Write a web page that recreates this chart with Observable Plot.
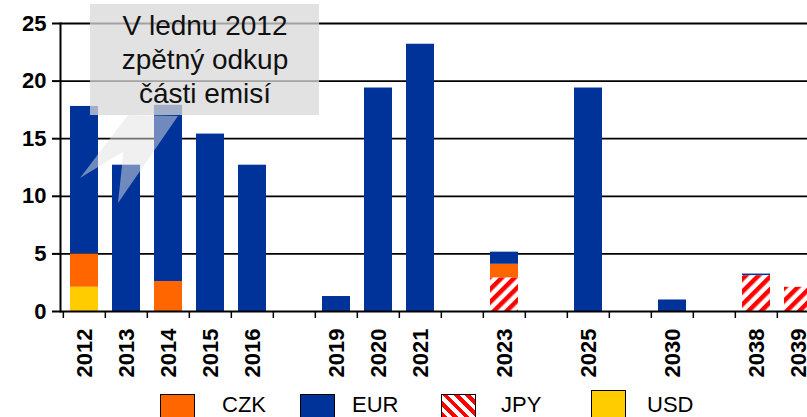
<!DOCTYPE html>
<html><head><meta charset="utf-8">
<script src="https://cdn.jsdelivr.net/npm/d3@7"></script>
<script src="https://cdn.jsdelivr.net/npm/@observablehq/plot@0.6"></script>
<style>
html,body{margin:0;padding:0;background:#fff;overflow:hidden;width:807px;height:417px;}
#wrap{position:relative;width:807px;height:417px;overflow:hidden;font-family:"Liberation Sans",Arial,sans-serif;}
#wrap svg{position:absolute;left:0;top:0;max-width:none !important;width:830px;height:385px;}
.sw{position:absolute;width:35px;height:30px;border:1.5px solid #000;box-sizing:border-box;}
.lt{position:absolute;font-size:22px;line-height:22px;color:#000;}
</style></head><body><div id="wrap"></div>
<script>
// categories (empty slots keep the spacing of the original axis)
const years = ["2012","2013","2014","2015","2016","2017","2019","2020","2021","2022","2023","2024","2025","2026","2030","2031","2038","2039"];
const hiddenYears = ["2017","2022","2024","2026","2031"];
const currencies = ["CZK","EUR","JPY","USD"];
const stackOrder = ["USD","JPY","CZK","EUR"];
// series values (bn)
const czk = [2.9,0,2.6,0,0,0,0,0,0,0,1.2,0,0,0,0,0,0,0];
const eur = [12.8,12.7,15.3,15.4,12.7,0,1.3,19.4,23.2,0,1.05,0,19.4,0,1.0,0,0.15,0];
const jpy = [0,0,0,0,0,0,0,0,0,0,2.9,0,0,0,0,0,3.1,2.1];
const usd = [2.1,0,0,0,0,0,0,0,0,0,0,0,0,0,0,0,0,0];
const yTicks = [0,5,10,15,20,25];
const calloutLines = ["V lednu 2012","zpětný odkup","části emisí"];

const colors = ["#FF6600","#003399","url(#jpyPat)","#FFCC00"];
const series = {CZK: czk, EUR: eur, JPY: jpy, USD: usd};
const rows = [];
for (const cur of currencies) years.forEach((y,i) => { if (series[cur][i] > 0) rows.push({year: y, cur, value: series[cur][i]}); });

const step = (822 - 60) / years.length;
const font = "Liberation Sans, Arial, sans-serif";

const svg = Plot.plot({
  width: 830, height: 385,
  marginLeft: 60, marginRight: 8, marginTop: 23, marginBottom: 74,
  style: {fontFamily: font, background: "transparent", color: "#000", overflow: "visible", maxWidth: "none"},
  x: {domain: years, paddingInner: 0.34, paddingOuter: 0.17, label: null, axis: null},
  y: {domain: [0,25], label: null, axis: null},
  color: {domain: currencies, range: colors},
  marks: [
    Plot.ruleY(yTicks.filter(v => v > 0), {stroke: "#000", strokeWidth: 1.8}),
    Plot.barY(rows, {x: "year", y: "value", fill: "cur", order: stackOrder}),
    Plot.ruleY([0], {stroke: "#000", strokeWidth: 2}),
    Plot.frame({anchor: "left", stroke: "#000", strokeWidth: 2}),
    Plot.axisY({ticks: yTicks, tickSize: 8, tickPadding: 6, fontSize: 22, fontWeight: "bold", strokeWidth: 2, label: null}),
    Plot.axisX({tickSize: 7, tickFormat: () => "", dx: -step/2, strokeWidth: 1.5, label: null}),
    Plot.axisX({tickSize: 0, tickPadding: 17, tickRotate: -90, fontSize: 22, fontWeight: "bold", label: null,
      tickFormat: d => hiddenYears.includes(d) ? "" : d})
  ]
});

svg.insertAdjacentHTML("afterbegin",
  `<defs><pattern id="jpyPat" patternUnits="userSpaceOnUse" width="9" height="9" patternTransform="rotate(45)">
     <rect width="9" height="9" fill="#fff"/><rect width="4.5" height="9" fill="#ff0000"/></pattern></defs>`);

// callout annotation
const txt = calloutLines.map((t,i) => `<text x="205" y="${35 + i*34}" text-anchor="middle" font-size="28" fill="#111" font-family="${font}">${t}</text>`).join("");
svg.insertAdjacentHTML("beforeend",
  `<g class="callout">
     <rect x="90" y="4" width="229" height="111" fill="#d8d8d8" fill-opacity="0.75"/>
     <path d="M128,115 L80,178 L123.5,151.5 L118,203 L178,116 Z" fill="#e2e2e2" fill-opacity="0.5"/>
     ${txt}
   </g>`);

const wrap = document.getElementById("wrap");
wrap.appendChild(svg);

// legend
const legendPos = [
  {cur: "CZK", sx: 160, sy: 394, tx: 222, ty: 394},
  {cur: "EUR", sx: 300, sy: 394, tx: 352, ty: 394},
  {cur: "JPY", sx: 441, sy: 394, tx: 501, ty: 394},
  {cur: "USD", sx: 591, sy: 390, tx: 647, ty: 394}
];
legendPos.forEach((p) => {
  const i = currencies.indexOf(p.cur);
  const sw = document.createElement("div");
  sw.className = "sw";
  sw.style.left = p.sx + "px"; sw.style.top = p.sy + "px";
  if (p.cur === "JPY") {
    sw.style.background = "repeating-linear-gradient(45deg,#fff 0 4px,#f00 4px 8px)";
  } else sw.style.background = colors[i];
  wrap.appendChild(sw);
  const t = document.createElement("div");
  t.className = "lt";
  t.style.left = p.tx + "px"; t.style.top = p.ty + "px";
  t.textContent = p.cur;
  wrap.appendChild(t);
});
</script></body></html>
